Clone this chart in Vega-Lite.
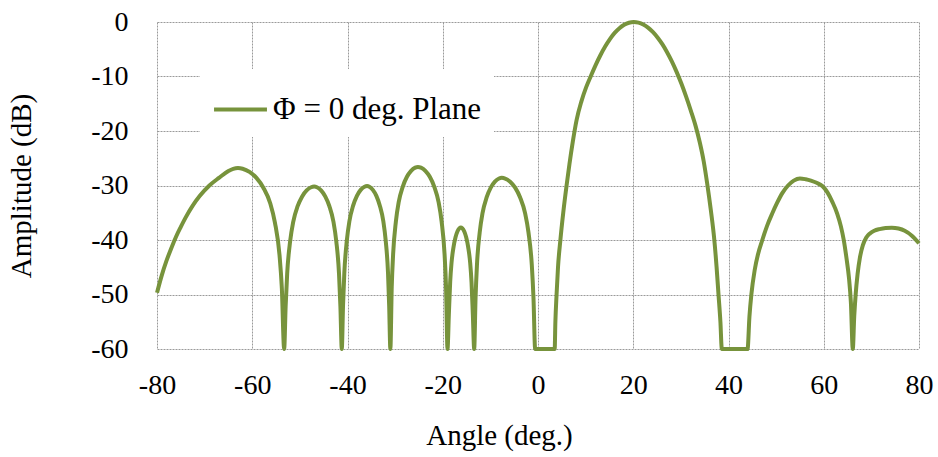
{
  "$schema": "https://vega.github.io/schema/vega-lite/v6.json",
  "width": 762,
  "height": 327,
  "autosize": {"type": "none"},
  "padding": {"left": 157, "top": 22, "right": 19, "bottom": 108},
  "background": "white",
  "data": {
    "values": [
      {"angle": -80, "amp": -49.7},
      {"angle": -79, "amp": -46.5},
      {"angle": -78, "amp": -43.8},
      {"angle": -77, "amp": -41.5},
      {"angle": -76, "amp": -39.4},
      {"angle": -75, "amp": -37.6},
      {"angle": -74, "amp": -35.9},
      {"angle": -72.5, "amp": -33.7},
      {"angle": -71, "amp": -31.9},
      {"angle": -69, "amp": -30.0},
      {"angle": -67, "amp": -28.6},
      {"angle": -65, "amp": -27.35},
      {"angle": -64, "amp": -26.95},
      {"angle": -63, "amp": -26.8},
      {"angle": -62.03, "amp": -26.92},
      {"angle": -60.58, "amp": -27.5},
      {"angle": -59.12, "amp": -28.6},
      {"angle": -57.67, "amp": -30.4},
      {"angle": -56.21, "amp": -33.3},
      {"angle": -55.24, "amp": -36.8},
      {"angle": -54.27, "amp": -42.8},
      {"angle": -53.79, "amp": -48.8},
      {"angle": -53.3, "amp": -60},
      {"angle": -52.99, "amp": -52.2},
      {"angle": -52.67, "amp": -46.2},
      {"angle": -52.04, "amp": -40.2},
      {"angle": -51.41, "amp": -36.7},
      {"angle": -50.47, "amp": -33.8},
      {"angle": -49.52, "amp": -32.0},
      {"angle": -48.58, "amp": -30.9},
      {"angle": -47.63, "amp": -30.32},
      {"angle": -47.0, "amp": -30.2},
      {"angle": -46.42, "amp": -30.32},
      {"angle": -45.55, "amp": -30.9},
      {"angle": -44.68, "amp": -32.0},
      {"angle": -43.81, "amp": -33.8},
      {"angle": -42.94, "amp": -36.7},
      {"angle": -42.36, "amp": -40.2},
      {"angle": -41.78, "amp": -46.2},
      {"angle": -41.49, "amp": -52.2},
      {"angle": -41.2, "amp": -60},
      {"angle": -40.94, "amp": -52.1},
      {"angle": -40.67, "amp": -46.1},
      {"angle": -40.14, "amp": -40.1},
      {"angle": -39.61, "amp": -36.6},
      {"angle": -38.82, "amp": -33.7},
      {"angle": -38.02, "amp": -31.9},
      {"angle": -37.23, "amp": -30.8},
      {"angle": -36.43, "amp": -30.22},
      {"angle": -35.9, "amp": -30.1},
      {"angle": -35.41, "amp": -30.22},
      {"angle": -34.68, "amp": -30.8},
      {"angle": -33.94, "amp": -31.9},
      {"angle": -33.21, "amp": -33.7},
      {"angle": -32.47, "amp": -36.6},
      {"angle": -31.98, "amp": -40.1},
      {"angle": -31.49, "amp": -46.1},
      {"angle": -31.25, "amp": -52.1},
      {"angle": -31.0, "amp": -60},
      {"angle": -30.71, "amp": -48.6},
      {"angle": -30.42, "amp": -42.6},
      {"angle": -29.84, "amp": -36.6},
      {"angle": -29.26, "amp": -33.1},
      {"angle": -28.39, "amp": -30.2},
      {"angle": -27.52, "amp": -28.4},
      {"angle": -26.65, "amp": -27.3},
      {"angle": -25.78, "amp": -26.72},
      {"angle": -25.2, "amp": -26.6},
      {"angle": -24.58, "amp": -26.72},
      {"angle": -23.65, "amp": -27.3},
      {"angle": -22.72, "amp": -28.4},
      {"angle": -21.79, "amp": -30.2},
      {"angle": -20.86, "amp": -33.1},
      {"angle": -20.24, "amp": -36.6},
      {"angle": -19.62, "amp": -42.6},
      {"angle": -19.31, "amp": -48.6},
      {"angle": -19.0, "amp": -60},
      {"angle": -18.72, "amp": -53.7},
      {"angle": -18.44, "amp": -47.7},
      {"angle": -18.16, "amp": -44.2},
      {"angle": -17.74, "amp": -41.3},
      {"angle": -17.32, "amp": -39.5},
      {"angle": -16.9, "amp": -38.4},
      {"angle": -16.48, "amp": -37.82},
      {"angle": -16.2, "amp": -37.7},
      {"angle": -15.92, "amp": -37.82},
      {"angle": -15.5, "amp": -38.4},
      {"angle": -15.08, "amp": -39.5},
      {"angle": -14.66, "amp": -41.3},
      {"angle": -14.24, "amp": -44.2},
      {"angle": -13.96, "amp": -47.7},
      {"angle": -13.68, "amp": -53.7},
      {"angle": -13.4, "amp": -60},
      {"angle": -13.11, "amp": -50.6},
      {"angle": -12.82, "amp": -44.6},
      {"angle": -12.24, "amp": -38.6},
      {"angle": -11.66, "amp": -35.1},
      {"angle": -10.79, "amp": -32.2},
      {"angle": -9.92, "amp": -30.4},
      {"angle": -9.05, "amp": -29.3},
      {"angle": -8.18, "amp": -28.72},
      {"angle": -7.6, "amp": -28.6},
      {"angle": -6.9, "amp": -28.72},
      {"angle": -5.85, "amp": -29.3},
      {"angle": -4.8, "amp": -30.4},
      {"angle": -3.75, "amp": -32.2},
      {"angle": -2.7, "amp": -35.1},
      {"angle": -2.0, "amp": -38.6},
      {"angle": -1.3, "amp": -44.6},
      {"angle": -0.95, "amp": -50.6},
      {"angle": -0.6, "amp": -60},
      {"angle": 3.5, "amp": -60},
      {"angle": 3.65, "amp": -55},
      {"angle": 3.9, "amp": -50},
      {"angle": 4.2, "amp": -45},
      {"angle": 4.7, "amp": -40},
      {"angle": 5.3, "amp": -35},
      {"angle": 6.0, "amp": -30},
      {"angle": 6.6, "amp": -26.1},
      {"angle": 7.3, "amp": -22.0},
      {"angle": 8.1, "amp": -18.0},
      {"angle": 9.1, "amp": -14.6},
      {"angle": 10.1, "amp": -12.0},
      {"angle": 11.1, "amp": -9.9},
      {"angle": 12.1, "amp": -7.9},
      {"angle": 13.1, "amp": -6.1},
      {"angle": 14.1, "amp": -4.5},
      {"angle": 15.1, "amp": -3.13},
      {"angle": 16.1, "amp": -2.0},
      {"angle": 17.1, "amp": -1.13},
      {"angle": 18.1, "amp": -0.5},
      {"angle": 19.1, "amp": -0.13},
      {"angle": 20.1, "amp": 0},
      {"angle": 21.1, "amp": -0.11},
      {"angle": 22.1, "amp": -0.45},
      {"angle": 23.1, "amp": -1.02},
      {"angle": 24.1, "amp": -1.81},
      {"angle": 25.1, "amp": -2.83},
      {"angle": 26.1, "amp": -4.07},
      {"angle": 27.1, "amp": -5.54},
      {"angle": 28.1, "amp": -7.23},
      {"angle": 29.1, "amp": -9.15},
      {"angle": 30.1, "amp": -11.3},
      {"angle": 31.1, "amp": -13.7},
      {"angle": 32.1, "amp": -16.3},
      {"angle": 33.1, "amp": -19.1},
      {"angle": 34.0, "amp": -22.2},
      {"angle": 34.8, "amp": -25.6},
      {"angle": 35.5, "amp": -29.5},
      {"angle": 36.3, "amp": -34.6},
      {"angle": 37.0, "amp": -39.8},
      {"angle": 37.5, "amp": -45},
      {"angle": 37.9, "amp": -50},
      {"angle": 38.3, "amp": -55},
      {"angle": 38.6, "amp": -60},
      {"angle": 44.0, "amp": -60},
      {"angle": 44.4, "amp": -54},
      {"angle": 44.8, "amp": -50},
      {"angle": 45.5, "amp": -45.5},
      {"angle": 46.2, "amp": -42.6},
      {"angle": 47.1, "amp": -40},
      {"angle": 48.1, "amp": -37.4},
      {"angle": 49.2, "amp": -35.1},
      {"angle": 50.2, "amp": -33.2},
      {"angle": 51.3, "amp": -31.4},
      {"angle": 52.5, "amp": -30.0},
      {"angle": 53.7, "amp": -29.1},
      {"angle": 55.0, "amp": -28.7},
      {"angle": 56.2, "amp": -28.85},
      {"angle": 57.3, "amp": -29.1},
      {"angle": 58.5, "amp": -29.5},
      {"angle": 59.7, "amp": -30.1},
      {"angle": 60.8, "amp": -31.3},
      {"angle": 61.8, "amp": -33.0},
      {"angle": 62.8, "amp": -35.1},
      {"angle": 63.6, "amp": -37.5},
      {"angle": 64.2, "amp": -40},
      {"angle": 64.8, "amp": -43.5},
      {"angle": 65.3, "amp": -47},
      {"angle": 65.7, "amp": -51.5},
      {"angle": 66.1, "amp": -60},
      {"angle": 66.4, "amp": -54},
      {"angle": 66.7, "amp": -50},
      {"angle": 67.1, "amp": -46.3},
      {"angle": 67.6, "amp": -43.2},
      {"angle": 68.2, "amp": -41.0},
      {"angle": 68.9, "amp": -39.6},
      {"angle": 69.7, "amp": -38.8},
      {"angle": 70.6, "amp": -38.3},
      {"angle": 71.7, "amp": -38.0},
      {"angle": 73.0, "amp": -37.8},
      {"angle": 74.3, "amp": -37.75},
      {"angle": 75.7, "amp": -37.9},
      {"angle": 77.0, "amp": -38.3},
      {"angle": 78.5, "amp": -39.2},
      {"angle": 80, "amp": -40.6}
    ]
  },
  "mark": {"type": "line", "strokeWidth": 4, "interpolate": "monotone", "clip": false},
  "encoding": {
    "x": {
      "field": "angle", "type": "quantitative",
      "scale": {"domain": [-80, 80], "nice": false, "zero": false},
      "axis": {"values": [-80, -60, -40, -20, 0, 20, 40, 60, 80], "title": "Angle (deg.)", "labelPadding": 22, "titlePadding": 22, "labelFlush": false, "labelExpr": "'' + datum.value", "titleX": 342, "titleAlign": "center"}
    },
    "y": {
      "field": "amp", "type": "quantitative",
      "scale": {"domain": [-60, 0], "nice": false, "zero": false},
      "axis": {"values": [-60, -50, -40, -30, -20, -10, 0], "title": "Amplitude (dB)", "labelPadding": 29, "titlePadding": 54, "labelExpr": "'' + datum.value"}
    },
    "color": {
      "datum": "Φ = 0 deg. Plane",
      "type": "nominal",
      "scale": {"range": ["#77933C"]},
      "legend": {"title": null}
    }
  },
  "config": {
    "view": {"stroke": null},
    "font": "Liberation Serif",
    "axis": {
      "domain": false,
      "ticks": false,
      "grid": true,
      "gridColor": "#9a9a9a",
      "gridDash": [2, 1],
      "gridWidth": 1,
      "labelFont": "Liberation Serif",
      "labelFontSize": 28,
      "labelColor": "black",
      "titleFont": "Liberation Serif",
      "titleFontSize": 29,
      "titleFontWeight": "normal",
      "titleColor": "black"
    },
    "legend": {
      "orient": "none",
      "legendX": 43,
      "legendY": 47,
      "fillColor": "white",
      "strokeColor": null,
      "padding": 12,
      "symbolType": "stroke",
      "symbolStrokeWidth": 4,
      "symbolSize": 2800,
      "labelFont": "Liberation Serif",
      "labelFontSize": 31,
      "labelColor": "black",
      "labelOffset": 4,
      "labelLimit": 400
    }
  }
}
